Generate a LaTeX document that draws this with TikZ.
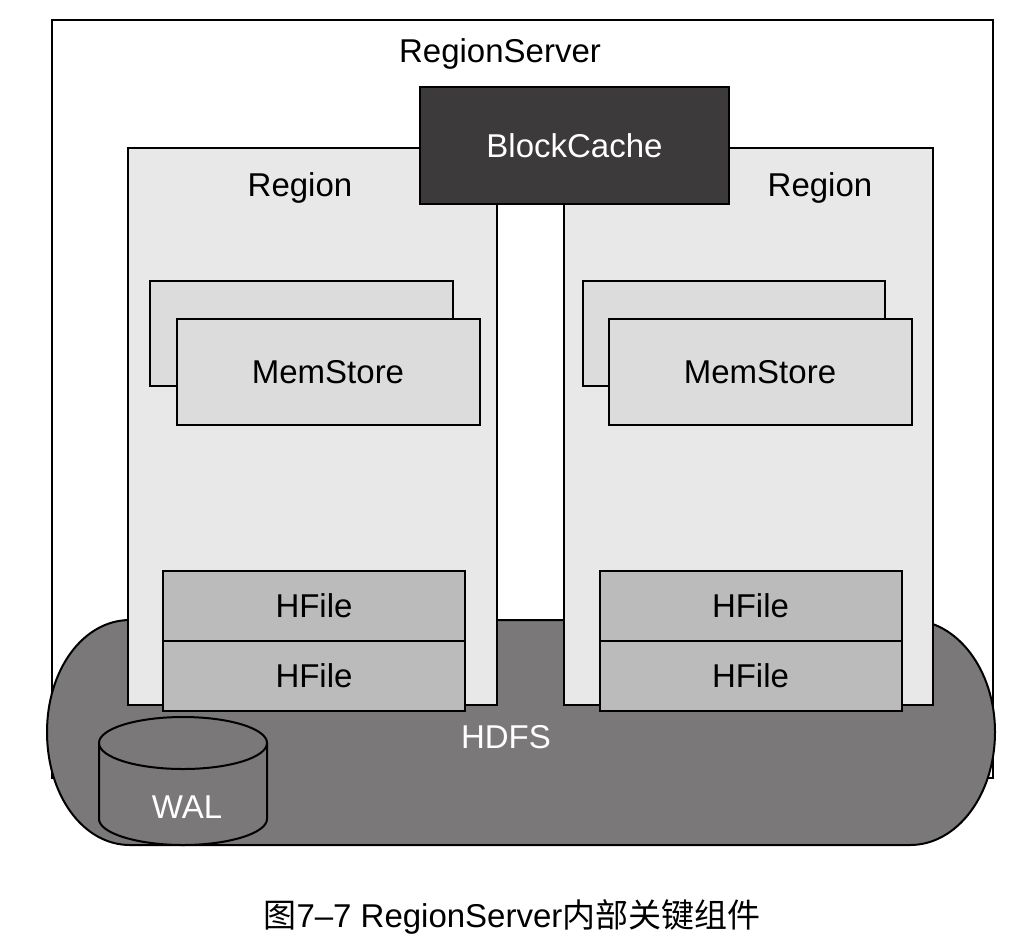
\documentclass[tikz,border=0pt]{standalone}
\usepackage{fontspec}
\setmainfont{Liberation Sans}
\newfontfamily\cjk{Noto Sans CJK SC}
\definecolor{cachegray}{HTML}{3C3A3B}
\definecolor{regiongray}{HTML}{E8E8E8}
\definecolor{memgray}{HTML}{DCDCDC}
\definecolor{filegray}{HTML}{BBBBBB}
\definecolor{hdfsgray}{HTML}{7A7879}

\begin{document}
\begin{tikzpicture}[x=1pt,y=-1pt,line width=2pt,
	lbl/.style={font=\fontsize{33}{40}\selectfont,inner sep=0pt},
	box/.style={draw,line width=2pt,inner sep=0pt,font=\fontsize{33}{40}\selectfont},
	memstore/.style={box,fill=memgray,minimum width=303,minimum height=106},
	hfile/.style={box,fill=filegray,minimum width=302,minimum height=70}]
	\useasboundingbox (0,0) rectangle (1024,948);
	%regionserver
		\draw[fill=white] (52,20) rectangle (993,778);
		\node[lbl] (rs) at (500,54) {RegionServer};
	%hdfs
		\draw[fill=hdfsgray] (130,620) -- (910,620) .. controls (957,620) and (995,670) .. (995,732)
			.. controls (995,795) and (957,845) .. (910,845) -- (130,845)
			.. controls (83,845) and (47,795) .. (47,732) .. controls (47,670) and (83,620) .. (130,620) -- cycle;
		\node[lbl,white] (hdfs) at (506,737) {HDFS};
	%regions
		\draw[fill=regiongray] (128,148) rectangle (497,705);
		\draw[fill=regiongray] (564,148) rectangle (933,705);
		\node[lbl] (regionl) at (300,188) {Region};
		\node[lbl] (regionr) at (820,188) {Region};
	%block cache
		\node[box,fill=cachegray,text=white,minimum width=309,minimum height=117] (cache) at (574.5,145.5) {BlockCache};
	%memstores
		\draw[fill=memgray] (150,281) rectangle (453,386);
		\node[memstore] (meml) at (328,372) {MemStore};
		\draw[fill=memgray] (583,281) rectangle (885,386);
		\node[memstore] (memr) at (760,372) {MemStore};
	%hfiles
		\node[hfile] (filela) at (314,606) {HFile};
		\node[hfile] (filelb) at (314,676) {HFile};
		\node[hfile] (filera) at (750.5,606) {HFile};
		\node[hfile] (filerb) at (750.5,676) {HFile};
	%wal
		\draw[fill=hdfsgray] (99,743) -- (99,819) .. controls (99,833) and (137,845) .. (183,845)
			.. controls (229,845) and (267,833) .. (267,819) -- (267,743);
		\draw[fill=hdfsgray] (183,743) ellipse [x radius=84, y radius=26];
		\node[lbl,white] (wal) at (187,807) {WAL};
	%caption
		\node[lbl] (caption) at (512,917) {{\cjk 图}7–7 RegionServer{\cjk 内部关键组件}};
\end{tikzpicture}
\end{document}
